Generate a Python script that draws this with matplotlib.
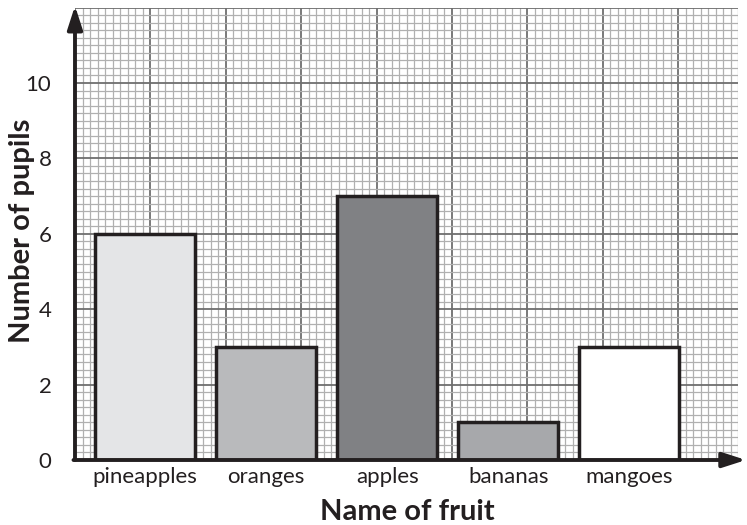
import numpy as np
import matplotlib.pyplot as plt

# Fruit survey data
fruits = ['pineapples', 'oranges', 'apples', 'bananas', 'mangoes']
pupils = [6, 3, 7, 1, 3]
bar_colors = ['#e4e5e7', '#b9babc', '#808184', '#a7a8ab', '#ffffff']
y_ticks = [0, 2, 4, 6, 8, 10]

plt.rcParams['font.family'] = ['Lato', 'DejaVu Sans']

fig = plt.figure(figsize=(7.47, 5.25), dpi=100)
ax = fig.add_axes([0.1004, 0.1238, 0.8882, 0.8617])

xmax, ymax = 17.6, 12.0
ax.set_xlim(0, xmax)
ax.set_ylim(0, ymax)

# graph paper grid: fine lines every 0.2, heavy lines every 2
for v in np.arange(0, xmax + 0.01, 0.2):
    heavy = abs(v / 2 - round(v / 2)) < 1e-6
    ax.axvline(v, color='#6e6e6e' if heavy else '#b0b0b0',
               lw=1.3 if heavy else 0.9, zorder=0)
for v in np.arange(0, ymax + 0.01, 0.2):
    heavy = abs(v / 2 - round(v / 2)) < 1e-6
    ax.axhline(v, color='#6e6e6e' if heavy else '#b0b0b0',
               lw=1.3 if heavy else 0.9, zorder=0)

# bars
pos = 1.86 + 3.21 * np.arange(len(fruits))
ax.bar(pos, pupils, width=2.65, color=bar_colors, edgecolor='#231f20',
       linewidth=2.5, zorder=2)

for s in ax.spines.values():
    s.set_visible(False)

# axes with arrow heads
ax.annotate('', xy=(0, 12.05), xytext=(0, 0), xycoords='data',
            arrowprops=dict(arrowstyle='-|>,head_length=1.4,head_width=0.45',
                            color='#231f20', lw=2.8, shrinkA=0, shrinkB=0),
            annotation_clip=False, zorder=5)
ax.annotate('', xy=(17.8, 0), xytext=(-0.04, 0), xycoords='data',
            arrowprops=dict(arrowstyle='-|>,head_length=1.4,head_width=0.45',
                            color='#231f20', lw=2.8, shrinkA=0, shrinkB=0),
            annotation_clip=False, zorder=5)

ax.set_xticks(pos)
ax.set_xticklabels(fruits, fontsize=16, color='#231f20')
ax.set_yticks(y_ticks)
ax.set_yticklabels([str(t) for t in y_ticks], fontsize=16, color='#231f20')
ax.tick_params(axis='x', length=0, pad=5)
ax.tick_params(axis='y', length=0, pad=17)

fig.text(0.029, 0.56, 'Number of pupils', rotation=90, ha='center', va='center',
         fontsize=21, fontweight='bold', color='#231f20')
fig.text(0.545, 0.025, 'Name of fruit', ha='center', va='center',
         fontsize=21, fontweight='bold', color='#231f20')

fig.savefig('out.png', dpi=100)
